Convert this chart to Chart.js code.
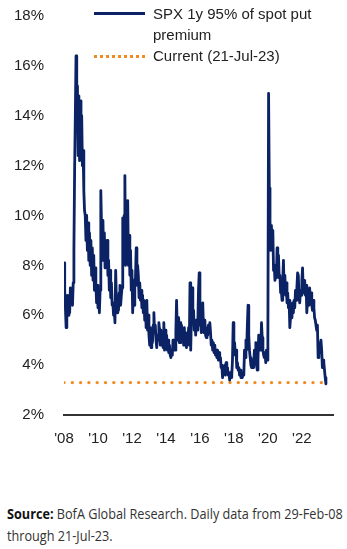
<!DOCTYPE html>
<html>
<head>
<meta charset="utf-8">
<script src="https://cdn.jsdelivr.net/npm/chart.js@4.4.1/dist/chart.umd.min.js"></script>
<style>
  body { margin: 0; background: #fff; width: 347px; height: 549px; overflow: hidden; }
  #wrap { position: relative; width: 347px; height: 456px; }
  #chart { position: absolute; left: 0; top: -5px; }
  .legend { position: absolute; left: 94px; top: 3px; font: 15px "Liberation Sans", Arial, sans-serif; color: #222; }
  .legend .row { position: relative; padding-left: 59px; line-height: 21px; }
  .legend .swatch { position: absolute; left: 0; width: 51px; top: 10px; }
  .legend .solid { border-top: 3px solid #0b2265; top: 9px; }
  .legend .dots { border-top: 3px dotted #f08a24; }
  .source { position: absolute; left: 7px; top: 503px; margin: 0; font: 14px "Open Sans", sans-serif; color: #333;
            line-height: 22px; white-space: nowrap; transform: scaleX(0.905); transform-origin: left top; }
  .source b { font-weight: 700; color: #111; }
</style>
</head>
<body>
<div id="wrap">
  <canvas id="chart" width="347" height="461"></canvas>
  <div class="legend">
    <div class="row"><span class="swatch solid"></span>SPX 1y 95% of spot put<br>premium</div>
    <div class="row"><span class="swatch dots"></span>Current (21-Jul-23)</div>
  </div>
</div>
<p class="source"><b>Source:</b> BofA Global Research. Daily data from 29-Feb-08<br>through 21-Jul-23.</p>

<script>
// Put premium (% of spot), two readings a month (mid-month, month-end)
const firstYear = 2008;
const firstHalfMonth = 3; // first reading = end of Feb 2008 (29-Feb-08)
const put2008 = [8.1, 7.0, 6.3, 5.5, 6.2, 6.8, 6.0, 6.6, 6.1, 7.1, 6.5, 6.9, 6.4, 7.3, 8.6, 11.8, 14.0, 16.4, 13.5, 15.2, 12.4];
const put2009 = [14.8, 12.2, 14.6, 12.6, 14.0, 12.0, 12.6, 11.0, 10.2, 10.0, 9.0, 10.0, 8.6, 9.7, 8.2, 9.3, 8.0, 9.0, 7.6, 8.7, 7.4, 8.4, 7.0, 7.9];
const put2010 = [7.3, 6.5, 7.2, 6.3, 6.6, 6.1, 7.0, 11.0, 9.6, 8.2, 9.8, 8.4, 9.3, 7.9, 9.0, 8.0, 9.0, 7.6, 8.2, 7.0, 7.8, 6.7, 7.3, 6.4];
const put2011 = [6.5, 6.0, 6.2, 5.7, 7.8, 6.6, 6.1, 6.8, 6.2, 6.9, 7.2, 6.4, 6.8, 7.1, 9.9, 8.6, 10.0, 11.6, 8.0, 9.8, 8.2, 10.6, 8.0, 9.2];
const put2012 = [7.6, 8.6, 7.0, 7.8, 6.1, 6.9, 6.4, 7.4, 7.5, 8.7, 7.2, 8.0, 7.6, 6.7, 7.3, 6.6, 7.0, 6.3, 6.8, 6.1, 6.6, 5.8, 6.4, 5.5];
const put2013 = [6.6, 5.4, 6.0, 5.2, 4.8, 5.5, 4.7, 5.4, 4.9, 5.6, 6.1, 5.3, 5.6, 5.0, 4.7, 5.2, 5.0, 5.7, 5.4, 4.8, 5.4, 4.9, 5.3, 4.7];
const put2014 = [5.7, 4.6, 5.4, 4.8, 5.2, 4.6, 5.0, 4.5, 4.8, 4.4, 4.3, 4.6, 4.4, 5.0, 4.6, 4.9, 4.6, 5.3, 6.6, 5.4, 5.0, 5.9, 4.9, 5.7];
const put2015 = [4.9, 5.6, 5.0, 5.4, 4.8, 5.5, 4.8, 5.3, 4.7, 5.2, 4.9, 5.5, 4.8, 7.3, 4.6, 6.0, 7.1, 5.8, 6.2, 5.4, 5.8, 5.2, 5.8, 5.4];
const put2016 = [5.6, 7.0, 7.7, 5.6, 5.8, 5.3, 6.0, 6.5, 5.5, 5.3, 5.8, 5.2, 5.1, 5.5, 5.2, 5.6, 5.3, 5.7, 5.3, 4.8, 5.0, 4.6, 4.9, 4.5];
const put2017 = [4.8, 4.4, 4.6, 4.3, 4.6, 4.2, 4.5, 4.2, 4.3, 3.9, 4.0, 3.5, 3.9, 3.7, 4.0, 3.6, 4.1, 3.7, 3.9, 3.6, 3.7, 3.4, 3.7, 3.5];
const put2018 = [3.6, 4.2, 5.7, 4.8, 4.9, 4.4, 4.6, 3.9, 4.1, 3.8, 3.9, 3.6, 3.8, 3.5, 3.7, 3.5, 3.7, 3.6, 4.6, 4.3, 5.0, 4.6, 5.6, 6.4];
const put2019 = [5.2, 4.6, 4.3, 4.0, 3.9, 4.2, 3.9, 4.1, 4.6, 4.3, 4.9, 4.0, 3.8, 4.2, 5.2, 4.6, 5.0, 4.6, 5.7, 5.1, 4.6, 4.4, 4.3, 4.5];
const put2020 = [4.1, 4.6, 4.2, 5.0, 14.9, 11.1, 9.8, 8.6, 9.6, 8.8, 9.4, 7.8, 8.0, 7.4, 7.9, 7.5, 8.7, 7.8, 8.4, 7.5, 7.6, 6.9, 7.0, 6.6];
const put2021 = [7.4, 8.2, 7.0, 7.6, 6.8, 7.3, 6.5, 6.9, 6.3, 6.6, 5.5, 5.9, 6.2, 5.9, 6.5, 6.1, 6.6, 6.3, 7.0, 6.6, 7.1, 7.7, 7.6, 6.8];
const put2022 = [6.5, 7.0, 6.8, 7.4, 7.9, 6.9, 7.0, 7.4, 6.8, 7.2, 6.1, 6.6, 6.4, 6.8, 7.1, 6.6, 6.9, 6.4, 6.2, 6.6, 6.3, 5.9, 5.8, 5.6];
const put2023 = [5.4, 5.6, 4.3, 4.9, 4.7, 4.5, 5.0, 4.6, 3.9, 4.2, 4.1, 3.8, 3.5, 3.25];

const currentLevel = 3.3; // 21-Jul-23
const yTicks = [2, 4, 6, 8, 10, 12, 14, 16, 18];
const xTickLabels = ["'08", "'10", "'12", "'14", "'16", "'18", "'20", "'22"];

const startX = firstYear + (firstHalfMonth + 1) / 24;
const endX = 2024.0;

// build {x, y} points, x = decimal year of each half-month reading
const yearly = [put2008, put2009, put2010, put2011, put2012, put2013, put2014, put2015,
                put2016, put2017, put2018, put2019, put2020, put2021, put2022, put2023];
const putPoints = [];
yearly.forEach((vals, i) => {
    const year = firstYear + i;
    const offset = i === 0 ? firstHalfMonth : 0;
    vals.forEach((v, k) => {
        putPoints.push({ x: year + (k + offset + 1) / 24, y: v });
    });
});
const lastX = putPoints[putPoints.length - 1].x;

const tickFont = { family: "'Liberation Sans', Arial, sans-serif", size: 15 };

new Chart(document.getElementById('chart'), {
    type: 'line',
    data: {
        datasets: [{
            label: 'SPX 1y 95% of spot put premium',
            data: putPoints,
            borderColor: '#0b2265',
            borderWidth: 2.8,
            pointRadius: 0,
            tension: 0,
            borderJoinStyle: 'round'
        }, {
            label: 'Current (21-Jul-23)',
            data: [{ x: startX, y: currentLevel }, { x: lastX, y: currentLevel }],
            borderColor: '#f08a24',
            borderWidth: 3.4,
            borderDash: [0, 8.3],
            borderCapStyle: 'round',
            pointRadius: 0
        }]
    },
    options: {
        responsive: false,
        animation: false,
        events: [],
        layout: { padding: { top: 1, right: 14, bottom: 0, left: 0 } },
        plugins: { legend: { display: false }, tooltip: { enabled: false } },
        scales: {
            x: {
                type: 'linear',
                min: startX,
                max: endX,
                grid: { display: false },
                border: { display: true, color: '#333', width: 2 },
                afterBuildTicks: (scale) => {
                    scale.ticks = xTickLabels.map((_, i) => ({ value: startX + 2 * i }));
                },
                afterFit: (scale) => { scale.height = 41; },
                ticks: {
                    font: tickFont,
                    color: '#222',
                    padding: 7,
                    maxRotation: 0,
                    autoSkip: false,
                    callback: (v, i) => xTickLabels[i]
                }
            },
            y: {
                min: 2,
                max: 18,
                grid: { display: false },
                border: { display: false },
                afterBuildTicks: (scale) => {
                    scale.ticks = yTicks.map(v => ({ value: v }));
                },
                afterFit: (scale) => { scale.width = 64; },
                ticks: {
                    font: tickFont,
                    color: '#222',
                    padding: 12,
                    callback: (v) => v + '%'
                }
            }
        }
    }
});
</script>
</body>
</html>
